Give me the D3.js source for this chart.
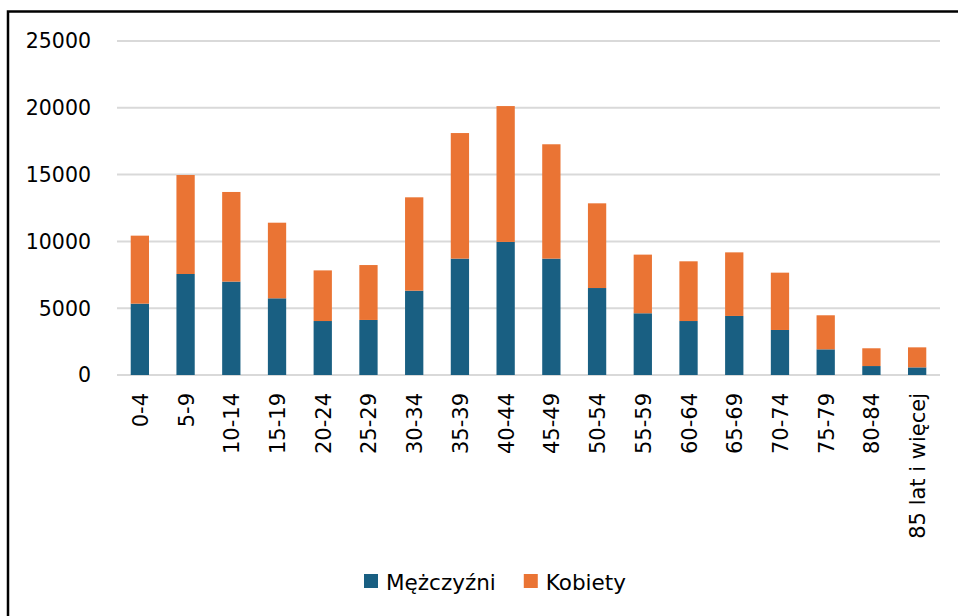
<!DOCTYPE html>
<html>
<head>
<meta charset="utf-8">
<script src="https://cdn.jsdelivr.net/npm/d3@7"></script>
<style>
  body { margin: 0; background: #fff; }
  svg { display: block; }
  text { font-family: "DejaVu Sans", sans-serif; fill: #000; }
</style>
</head>
<body>
<script>
const ageGroups = ['0-4', '5-9', '10-14', '15-19', '20-24', '25-29', '30-34', '35-39', '40-44',
  '45-49', '50-54', '55-59', '60-64', '65-69', '70-74', '75-79', '80-84', '85 lat i więcej'];
const mezczyzni = [5340, 7560, 6990, 5740, 4040, 4120, 6310, 8710, 9960,
  8710, 6510, 4620, 4040, 4420, 3370, 1920, 670, 570];
const kobiety = [5090, 7410, 6710, 5660, 3790, 4110, 6990, 9400, 10170,
  8560, 6340, 4390, 4470, 4760, 4290, 2550, 1330, 1500];
const seriesNames = ['Mężczyźni', 'Kobiety'];
const yTicks = [0, 5000, 10000, 15000, 20000, 25000];

const width = 958;
const height = 616;
const colors = ['#195f82', '#ea7434'];

const svg = d3.select('body')
  .append('svg')
  .attr('width', width)
  .attr('height', height);

// frame (only top and left edges are visible in the picture)
svg.append('rect')
  .attr('x', 8)
  .attr('y', 11.5)
  .attr('width', 980)
  .attr('height', 640)
  .attr('fill', 'none')
  .attr('stroke', '#000')
  .attr('stroke-width', 2.5);

const x = d3.scaleBand()
  .domain(ageGroups)
  .range([117, 940])
  .paddingInner(0.6)
  .paddingOuter(0.3);

const y = d3.scaleLinear()
  .domain([0, 25000])
  .range([375, 41]);

// gridlines
svg.append('g')
  .selectAll('line')
  .data(yTicks)
  .enter()
  .append('line')
  .attr('x1', 117)
  .attr('x2', 940)
  .attr('y1', d => y(d))
  .attr('y2', d => y(d))
  .attr('stroke', '#d9d9d9')
  .attr('stroke-width', 2);

// y tick labels
svg.append('g')
  .selectAll('text')
  .data(yTicks)
  .enter()
  .append('text')
  .attr('x', 91)
  .attr('y', d => y(d))
  .attr('dy', '0.36em')
  .attr('text-anchor', 'end')
  .style('font-size', '20.5px')
  .text(d => d);

// stacked bars
const rows = ageGroups.map((g, i) => ({ group: g, m: mezczyzni[i], k: kobiety[i] }));
const stacked = d3.stack().keys(['m', 'k'])(rows);

svg.append('g')
  .selectAll('g')
  .data(stacked)
  .enter()
  .append('g')
  .attr('fill', (d, i) => colors[i])
  .selectAll('rect')
  .data(d => d)
  .enter()
  .append('rect')
  .attr('x', d => x(d.data.group))
  .attr('width', x.bandwidth())
  .attr('y', d => y(d[1]))
  .attr('height', d => y(d[0]) - y(d[1]));

// x labels, rotated
svg.append('g')
  .selectAll('text')
  .data(ageGroups)
  .enter()
  .append('text')
  .attr('transform', d => 'translate(' + (x(d) + x.bandwidth() / 2) + ',393) rotate(-90)')
  .attr('dy', '0.38em')
  .attr('text-anchor', 'end')
  .style('font-size', '21px')
  .text(d => d);

// legend
const legend = svg.append('g');
let lx = 364;
seriesNames.forEach((name, i) => {
  legend.append('rect')
    .attr('x', lx)
    .attr('y', 574)
    .attr('width', 14)
    .attr('height', 14)
    .attr('fill', colors[i]);
  const t = legend.append('text')
    .attr('x', lx + 22)
    .attr('y', 589.5)
    .style('font-size', '21.5px')
    .text(name);
  lx += 22 + t.node().getComputedTextLength() + 28;
});
</script>
</body>
</html>
